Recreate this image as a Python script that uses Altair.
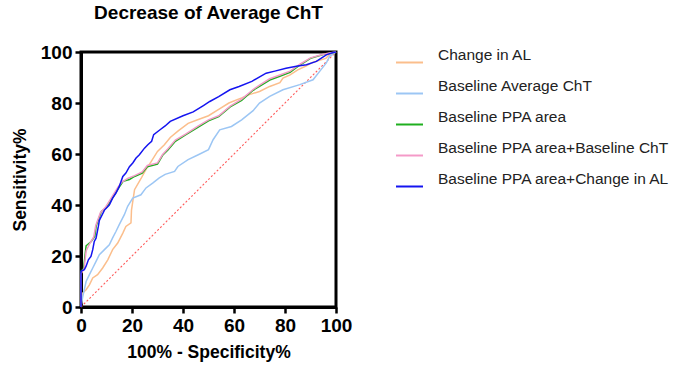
import altair as alt
import pandas as pd

# ---- data (x = 100% - Specificity%, y = Sensitivity%) ----
series_names = [
    "Change in AL",
    "Baseline Average ChT",
    "Baseline PPA area",
    "Baseline PPA area+Baseline ChT",
    "Baseline PPA area+Change in AL",
]
series_colors = ["#FBBE8C", "#9CC6F4", "#1FAF1F", "#F49AC8", "#1414F0"]

al_x = [0, 0.7, 2, 3.3, 4.6, 6.5, 8.5, 10.5, 12.4, 14.4, 16.4, 17.6, 19.6, 19.8, 21, 23.5, 25.5, 27.5, 30, 32.7,
        35, 38, 42, 46, 50, 54, 58, 63, 66, 70, 74, 78, 79.2, 82, 85, 88, 91, 96, 97.5, 100]
al_y = [0, 5.5, 6.8, 8.7, 11.4, 12.7, 15.3, 18.5, 22.5, 25.1, 29, 31.6, 33, 38, 46, 50.3, 54, 57, 61, 63.6,
        66.5, 69, 72, 73.5, 75, 77.5, 80, 82, 83.3, 84.5, 86.5, 88, 89.8, 91, 93, 94.4, 96, 97.5, 99, 100]

cht_x = [0, 0.7, 2, 3.3, 4.6, 5.9, 7.2, 9.2, 11.1, 12.4, 13.7, 15, 17, 18.3, 20.3, 23.5, 25.5, 28.1, 30.7, 33,
         36.7, 38, 42, 46, 50, 51.8, 54.4, 59, 63, 67.5, 70, 74, 79.2, 85.8, 91, 93.6, 96.2, 97.5, 100]
cht_y = [0, 4.2, 10, 12.7, 15.3, 17.9, 20.5, 22.5, 24.4, 27.1, 29.6, 32.3, 36.2, 39.5, 42.7, 44, 46.7, 48.6, 50.6, 52,
         53.2, 55.1, 57.8, 59.7, 61.7, 65.6, 69.5, 70.8, 73.4, 77, 80, 82.6, 85.2, 87.2, 89.1, 92.4, 95.7, 98.3, 100]

ppa_x = [0, 0, 1, 2, 4, 5.4, 6, 8, 10, 12.5, 15, 16.5, 19, 21, 24, 26, 30, 32, 34, 37, 41, 46, 50, 54, 58.5,
         63, 67.5, 70, 74, 78, 82, 86, 90, 95, 98, 100]
ppa_y = [0, 14, 15, 24, 25.7, 27.7, 32, 37.5, 39, 43, 47, 49.3, 50, 51.2, 52.5, 55, 56, 59.5, 61.5, 65, 67.5, 70.5,
         73, 74.7, 78.5, 81, 85, 86.5, 89, 90.5, 92, 95, 97.5, 99, 99.6, 100]

ppa_cht_x = [0, 0, 1.2, 2, 3.5, 5, 5.8, 7.6, 9.5, 12, 14.5, 16, 18.5, 21, 24, 26, 30, 32, 34, 37, 41, 46, 50, 54,
             58.5, 63, 67.5, 70, 74, 78, 82, 86, 90, 95, 98, 100]
ppa_cht_y = [0, 13, 15, 22, 25, 27.5, 32, 37, 39, 43, 47, 49, 50.5, 51.5, 53, 55.5, 56.5, 59.8, 62, 65.5, 67.8, 71,
             73.4, 75, 78.8, 81.5, 85.3, 87, 89.5, 91, 92.5, 95.3, 97.7, 99.1, 99.7, 100]

ppa_al_x = [0, 0, 1.3, 2, 2.9, 3.9, 4.6, 5.2, 5.9, 6.8, 7.2, 9.2, 11.1, 12.4, 13.7, 15, 16.4, 17.6, 19, 20.3, 21.6,
            22.9, 24.9, 26.2, 27.7, 28.5, 31, 33, 35, 40, 44, 48, 50.5, 54, 58.4, 62, 67, 72.6, 76, 80.4, 85,
            88.4, 92.3, 96.2, 98.8, 100]
ppa_al_y = [0, 14, 14.6, 16, 18.5, 19.8, 22.5, 25.7, 27, 31.6, 34, 38, 40, 42.7, 44.7, 47.3, 51.2, 52.5, 55, 56.5,
            58.4, 59.7, 62.3, 63.6, 65, 67.6, 69.5, 71, 72.8, 75, 76.5, 79, 80.6, 82.5, 85.2, 86.5, 88.5, 91.7,
            92.5, 93.6, 94.5, 95, 96.3, 98.9, 99.8, 100]

ref_x = [0, 100]
ref_y = [0, 100]

x_ticks = [0, 20, 40, 60, 80, 100]
y_ticks = [0, 20, 40, 60, 80, 100]

curves = [(al_x, al_y), (cht_x, cht_y), (ppa_x, ppa_y), (ppa_cht_x, ppa_cht_y), (ppa_al_x, ppa_al_y)]
rows = []
for k, (name, (xs, ys)) in enumerate(zip(series_names, curves)):
    for i, (xv, yv) in enumerate(zip(xs, ys)):
        rows.append({"series": name, "x": xv, "y": yv, "i": i, "z": k})
df = pd.DataFrame(rows)
ref_df = pd.DataFrame({"x": ref_x, "y": ref_y, "i": list(range(len(ref_x)))})

FONT = "Liberation Sans"

x_enc = alt.X("x:Q", scale=alt.Scale(domain=[0, 100], nice=False),
              axis=alt.Axis(values=x_ticks, title="100% - Specificity%", titleX=127.5, titleY=45,
                            titleBaseline="middle"))
y_enc = alt.Y("y:Q", scale=alt.Scale(domain=[0, 100], nice=False),
              axis=alt.Axis(values=y_ticks, title="Sensitivity%", titleX=-61, titleY=127.5,
                            titleAngle=-90, titleBaseline="middle", titleAlign="center"))

ref = alt.Chart(ref_df).mark_line(color="#FF5A5A", strokeWidth=1.1, strokeDash=[2, 2]).encode(
    x=x_enc, y=y_enc, order="i:Q")

lines = alt.Chart(df).mark_line(strokeWidth=1.5).encode(
    x=x_enc, y=y_enc,
    color=alt.Color("series:N",
                    scale=alt.Scale(domain=series_names, range=series_colors),
                    sort=series_names,
                    legend=alt.Legend(title=None, orient="none", legendX=314, legendY=-4,
                                      symbolType="stroke", symbolSize=729, symbolStrokeWidth=2,
                                      labelFontSize=15.5, labelFont=FONT, labelColor="#222222",
                                      labelBaseline="bottom", labelOffset=14, rowPadding=11,
                                      labelLimit=0)),
    order="i:Q",
    detail="series:N",
)

chart = alt.layer(ref, lines).properties(
    width=255, height=255,
    autosize=alt.AutoSizeParams(type="none"),
    padding={"left": 81, "top": 52, "right": 348, "bottom": 64},
    background="white",
    title=alt.TitleParams("Decrease of Average ChT", fontSize=19, fontWeight="bold", font=FONT,
                          anchor="middle", offset=20, color="#000000"),
).configure_view(stroke="#000000", strokeWidth=3).configure_axis(
    grid=False, domainColor="#000000", domainWidth=3, tickColor="#000000", tickWidth=2.5, tickSize=6,
    labelFont=FONT, labelFontSize=19, labelFontWeight="bold", labelColor="#000000", labelPadding=3,
    labelFlush=False,
    titleFont=FONT, titleFontSize=17.5, titleFontWeight="bold", titleColor="#000000",
)

chart.save("out.html", embed_options={"renderer": "svg", "actions": False})
